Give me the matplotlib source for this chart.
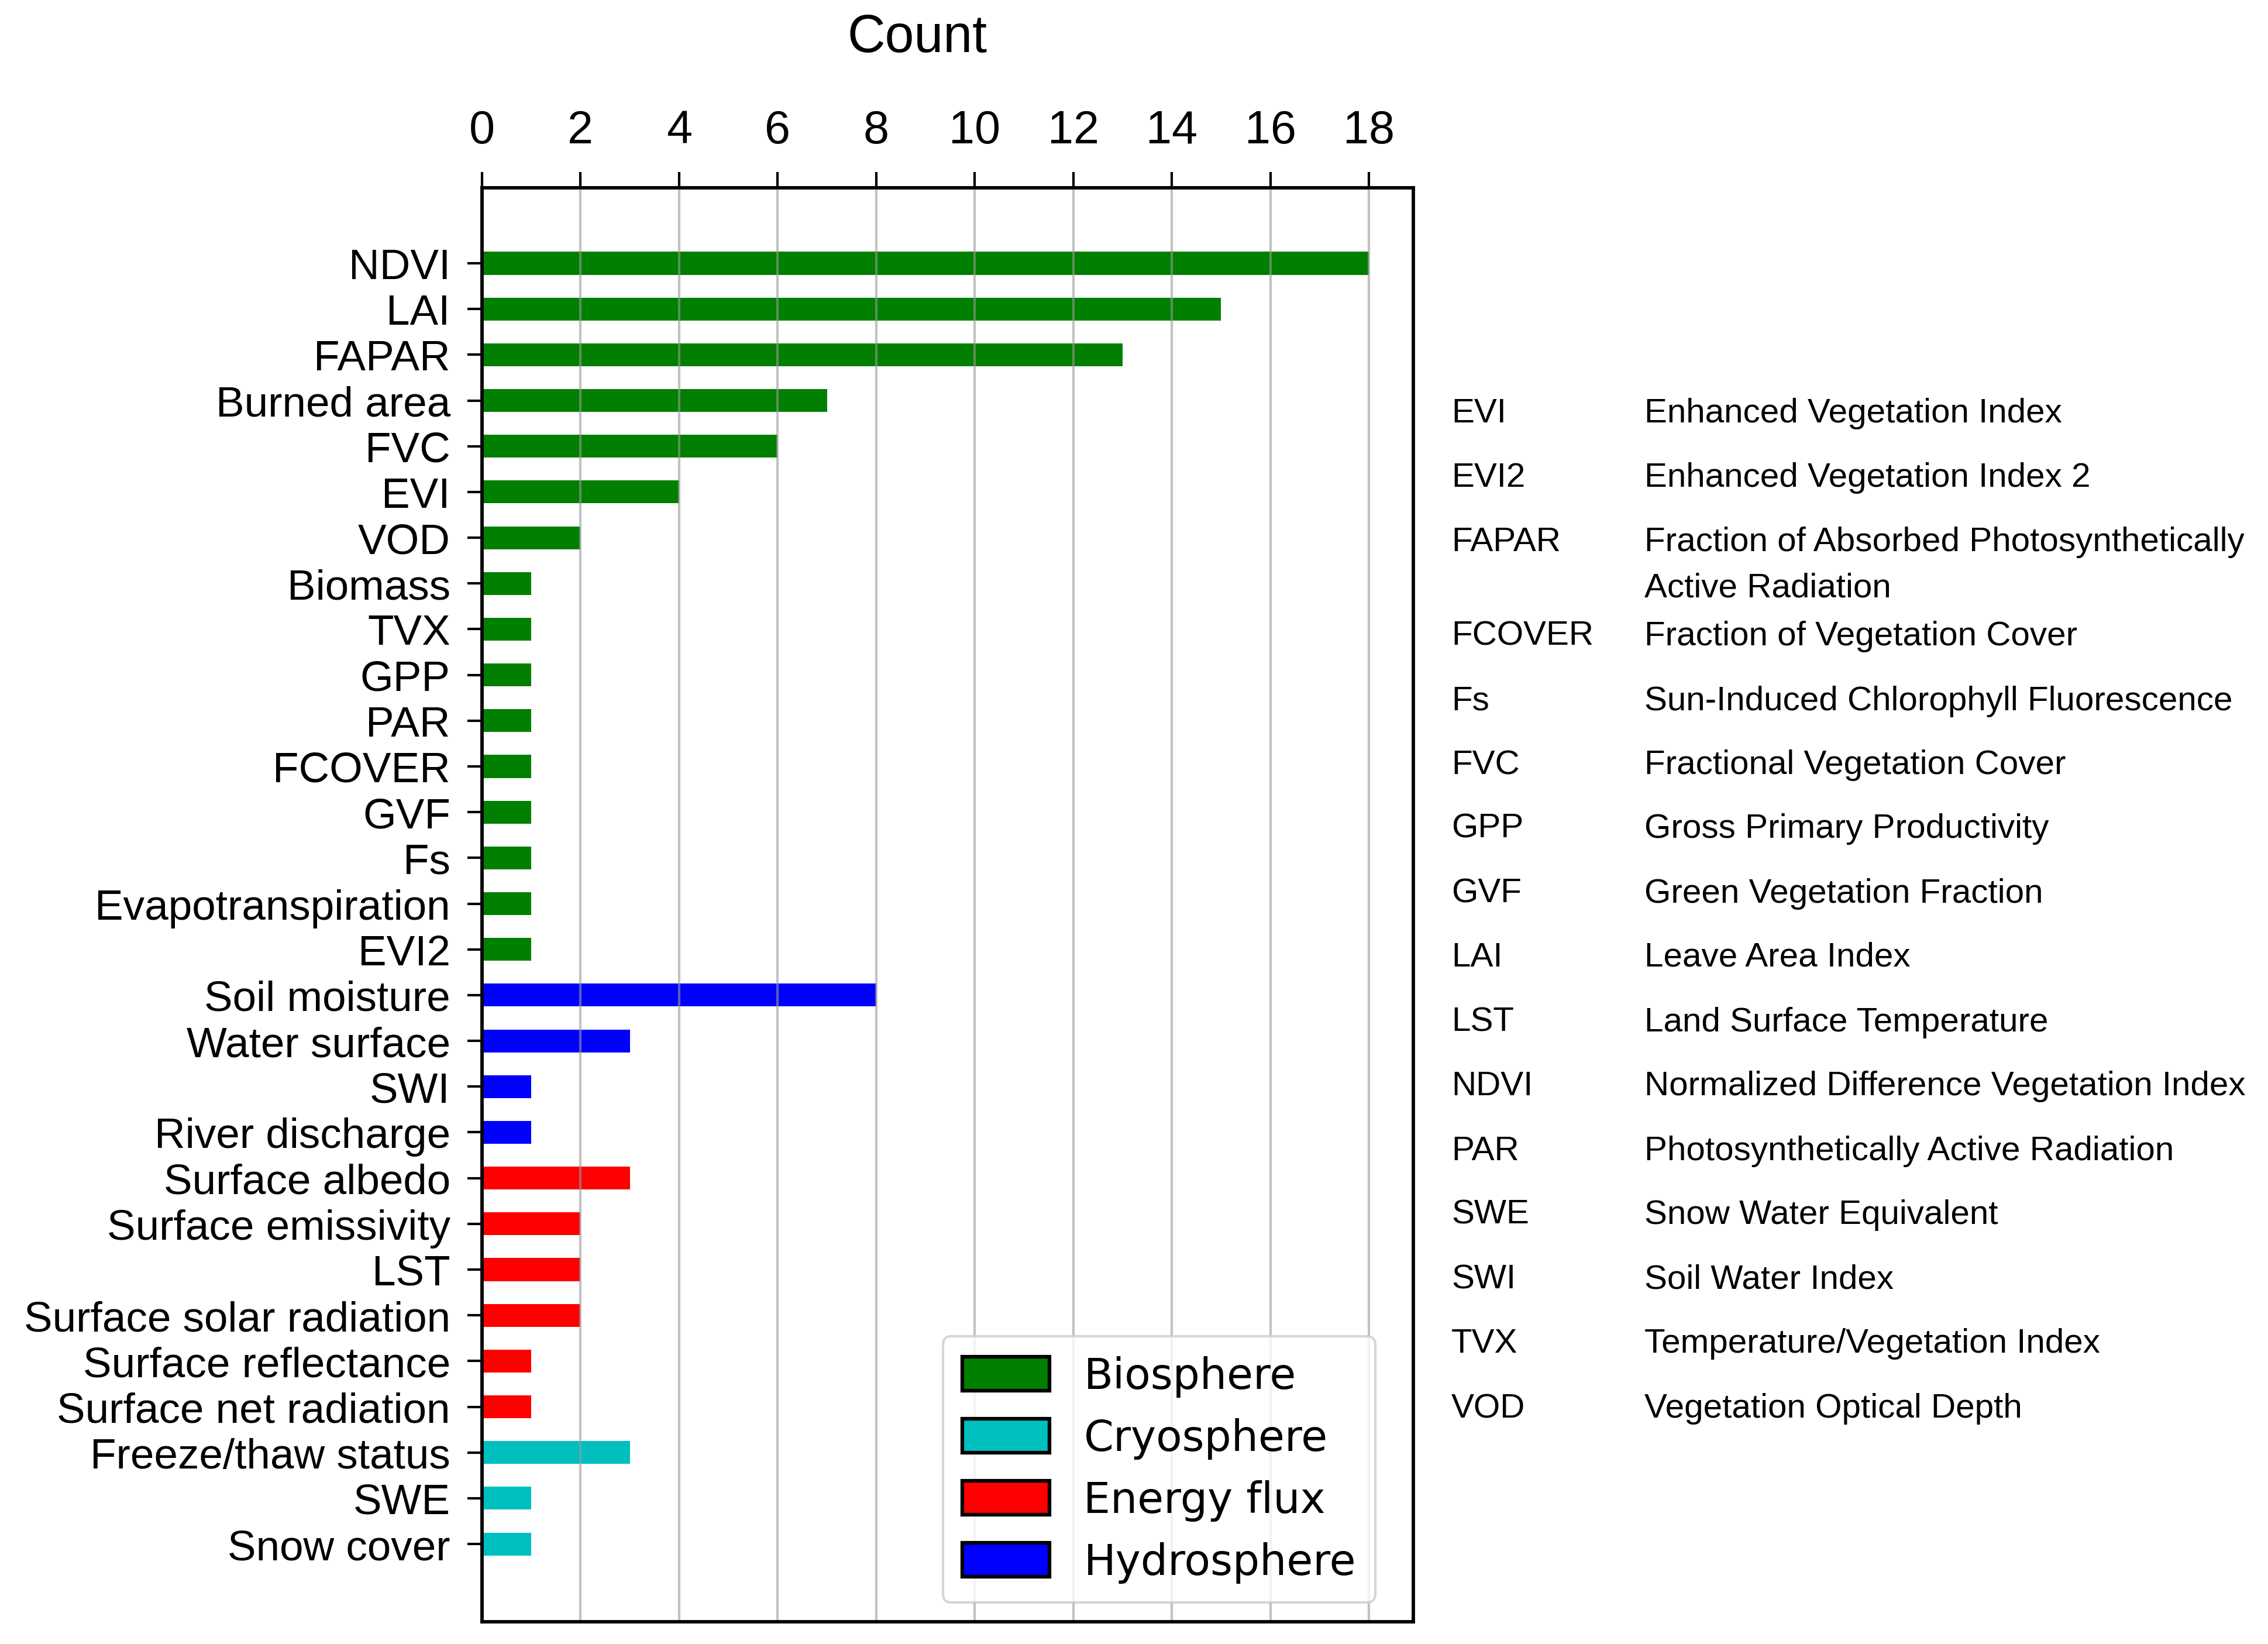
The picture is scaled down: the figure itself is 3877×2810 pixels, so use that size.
import matplotlib
matplotlib.use("Agg")
import matplotlib.pyplot as plt
from matplotlib.patches import Patch

categories = ["NDVI", "LAI", "FAPAR", "Burned area", "FVC", "EVI", "VOD", "Biomass",
              "TVX", "GPP", "PAR", "FCOVER", "GVF", "Fs", "Evapotranspiration", "EVI2",
              "Soil moisture", "Water surface", "SWI", "River discharge",
              "Surface albedo", "Surface emissivity", "LST", "Surface solar radiation",
              "Surface reflectance", "Surface net radiation",
              "Freeze/thaw status", "SWE", "Snow cover"]
counts = [18, 15, 13, 7, 6, 4, 2, 1, 1, 1, 1, 1, 1, 1, 1, 1,
          8, 3, 1, 1,
          3, 2, 2, 2, 1, 1,
          3, 1, 1]
groups = ["Biosphere"] * 16 + ["Hydrosphere"] * 4 + ["Energy flux"] * 6 + ["Cryosphere"] * 3

legend_labels = ["Biosphere", "Cryosphere", "Energy flux", "Hydrosphere"]
group_colors = {"Biosphere": "#007f00", "Cryosphere": "#00bfbf",
                "Energy flux": "#ff0000", "Hydrosphere": "#0000ff"}

xticks = [0, 2, 4, 6, 8, 10, 12, 14, 16, 18]

abbrevs = ["EVI", "EVI2", "FAPAR", "", "FCOVER", "Fs", "FVC", "GPP", "GVF", "LAI",
           "LST", "NDVI", "PAR", "SWE", "SWI", "TVX", "VOD"]
definitions = ["Enhanced Vegetation Index", "Enhanced Vegetation Index 2",
               "Fraction of Absorbed Photosynthetically", "Active Radiation",
               "Fraction of Vegetation Cover", "Sun-Induced Chlorophyll Fluorescence",
               "Fractional Vegetation Cover", "Gross Primary Productivity",
               "Green Vegetation Fraction", "Leave Area Index",
               "Land Surface Temperature", "Normalized Difference Vegetation Index",
               "Photosynthetically Active Radiation", "Snow Water Equivalent",
               "Soil Water Index", "Temperature/Vegetation Index",
               "Vegetation Optical Depth"]
row_px = [707, 817, 927, 1006, 1088, 1199, 1308, 1417, 1528, 1637, 1748, 1857,
          1968, 2077, 2188, 2297, 2408]

W, H, DPI = 3877, 2811, 300
fig = plt.figure(figsize=(W / DPI, H / DPI), dpi=DPI)
ax = fig.add_axes([824 / W, 1 - 2773 / H, (2416 - 824) / W, (2773 - 322) / H])

arial = "Liberation Sans"
ypos = list(range(len(categories)))
colors = [group_colors[g] for g in groups]
ax.barh(ypos, counts, height=0.5, color=colors, zorder=2)

ax.set_xlim(0, 18.9)
ax.set_ylim(29.7, -1.65)
ax.set_yticks(ypos)
ax.set_yticklabels(categories, fontfamily=arial, fontsize=17.5)
ax.set_xticks(xticks)
ax.set_xticklabels([str(t) for t in xticks], fontfamily=arial, fontsize=19)
ax.xaxis.tick_top()
ax.tick_params(axis="x", direction="out", length=6.5, width=1.0, pad=8, top=True, bottom=False)
ax.tick_params(axis="y", direction="out", length=6, width=1.0, pad=7)
ax.grid(axis="x", color="#9a9a9a", alpha=0.6, linewidth=1.0, zorder=3)
ax.set_axisbelow(False)
for sp in ax.spines.values():
    sp.set_linewidth(1.4)
    sp.set_zorder(4)

fig.text(1568 / W, 1 - 66 / H, "Count", ha="center", va="center",
         fontfamily=arial, fontsize=21.5)

handles = [Patch(facecolor=group_colors[l], edgecolor="black", linewidth=1.5, label=l)
           for l in legend_labels]
leg = ax.legend(handles=handles, loc="lower right", bbox_to_anchor=(0.959, 0.0135),
                borderaxespad=0, prop={"family": "DejaVu Sans", "size": 17.5},
                handlelength=2.05, handleheight=0.85, handletextpad=0.8,
                labelspacing=0.48, borderpad=0.45, framealpha=0.8)
leg.set_zorder(5)

for a, d, py in zip(abbrevs, definitions, row_px):
    yf = 1 - py / H
    if a:
        fig.text(2481 / W, yf, a, ha="left", va="center", fontfamily=arial, fontsize=14)
    fig.text(2811 / W, yf, d, ha="left", va="center", fontfamily=arial, fontsize=14)

fig.savefig("out.png", dpi=DPI)
